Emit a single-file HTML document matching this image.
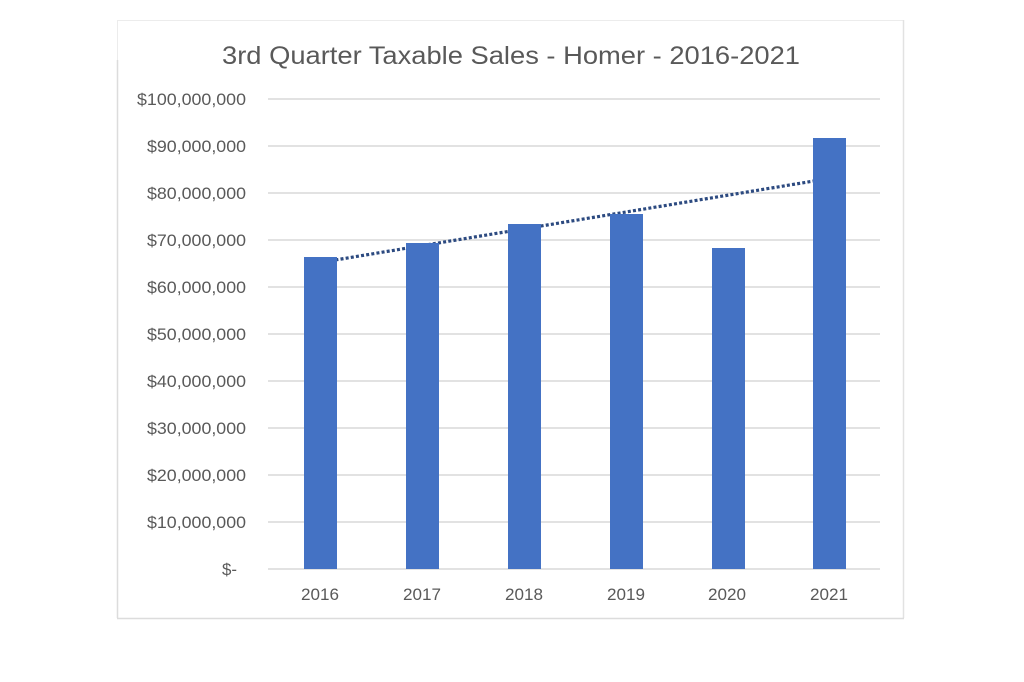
<!DOCTYPE html>
<html>
<head>
<meta charset="utf-8">
<style>
html,body{margin:0;padding:0;background:#fff;}
svg{display:block;}
text{font-family:"Liberation Sans",Arial,sans-serif;fill:#595959;}
</style>
</head>
<body>
<svg width="1024" height="682" viewBox="0 0 1024 682" xmlns="http://www.w3.org/2000/svg">
<rect x="0" y="0" width="1024" height="682" fill="#ffffff"/>
<!-- chart frame -->
<rect x="117.5" y="20.5" width="786" height="598" fill="#ffffff" stroke="#ececec" stroke-width="1"/>
<line x1="117.5" y1="60" x2="117.5" y2="618" stroke="#dcdcdc" stroke-width="1.5"/>
<line x1="903.5" y1="20" x2="903.5" y2="618" stroke="#e2e2e2" stroke-width="1.5"/>
<line x1="117" y1="618.5" x2="904" y2="618.5" stroke="#dcdcdc" stroke-width="1.5"/>

<!-- title -->
<text x="222" y="64" font-size="25" textLength="578" lengthAdjust="spacingAndGlyphs">3rd Quarter Taxable Sales - Homer - 2016-2021</text>

<!-- gridlines -->
<g stroke="#d9d9d9" stroke-width="1.5">
<line x1="268" y1="99" x2="880" y2="99"/>
<line x1="268" y1="146" x2="880" y2="146"/>
<line x1="268" y1="193" x2="880" y2="193"/>
<line x1="268" y1="240" x2="880" y2="240"/>
<line x1="268" y1="287" x2="880" y2="287"/>
<line x1="268" y1="334" x2="880" y2="334"/>
<line x1="268" y1="381" x2="880" y2="381"/>
<line x1="268" y1="428" x2="880" y2="428"/>
<line x1="268" y1="475" x2="880" y2="475"/>
<line x1="268" y1="522" x2="880" y2="522"/>
<line x1="268" y1="569" x2="880" y2="569"/>
</g>

<!-- y labels -->
<g font-size="17" text-anchor="end">
<text x="246" y="105" textLength="109" lengthAdjust="spacingAndGlyphs">$100,000,000</text>
<text x="246" y="152" textLength="99" lengthAdjust="spacingAndGlyphs">$90,000,000</text>
<text x="246" y="199" textLength="99" lengthAdjust="spacingAndGlyphs">$80,000,000</text>
<text x="246" y="246" textLength="99" lengthAdjust="spacingAndGlyphs">$70,000,000</text>
<text x="246" y="293" textLength="99" lengthAdjust="spacingAndGlyphs">$60,000,000</text>
<text x="246" y="340" textLength="99" lengthAdjust="spacingAndGlyphs">$50,000,000</text>
<text x="246" y="387" textLength="99" lengthAdjust="spacingAndGlyphs">$40,000,000</text>
<text x="246" y="434" textLength="99" lengthAdjust="spacingAndGlyphs">$30,000,000</text>
<text x="246" y="481" textLength="99" lengthAdjust="spacingAndGlyphs">$20,000,000</text>
<text x="246" y="528" textLength="99" lengthAdjust="spacingAndGlyphs">$10,000,000</text>
<text x="237" y="575" textLength="15" lengthAdjust="spacingAndGlyphs">$-</text>
</g>

<!-- trendline -->
<line x1="320" y1="262.5" x2="829" y2="178.5" stroke="#2c4a80" stroke-width="3.2" stroke-dasharray="3 2.2"/>

<!-- bars -->
<g fill="#4472c4">
<rect x="304" y="257" width="33" height="312"/>
<rect x="406" y="243" width="33" height="326"/>
<rect x="508" y="224" width="33" height="345"/>
<rect x="610" y="214" width="33" height="355"/>
<rect x="712" y="248" width="33" height="321"/>
<rect x="813" y="138" width="33" height="431"/>
</g>

<!-- x labels -->
<g font-size="17" text-anchor="middle">
<text x="320" y="600" textLength="38" lengthAdjust="spacingAndGlyphs">2016</text>
<text x="422" y="600" textLength="38" lengthAdjust="spacingAndGlyphs">2017</text>
<text x="524" y="600" textLength="38" lengthAdjust="spacingAndGlyphs">2018</text>
<text x="626" y="600" textLength="38" lengthAdjust="spacingAndGlyphs">2019</text>
<text x="727" y="600" textLength="38" lengthAdjust="spacingAndGlyphs">2020</text>
<text x="829" y="600" textLength="38" lengthAdjust="spacingAndGlyphs">2021</text>
</g>
</svg>
</body>
</html>
